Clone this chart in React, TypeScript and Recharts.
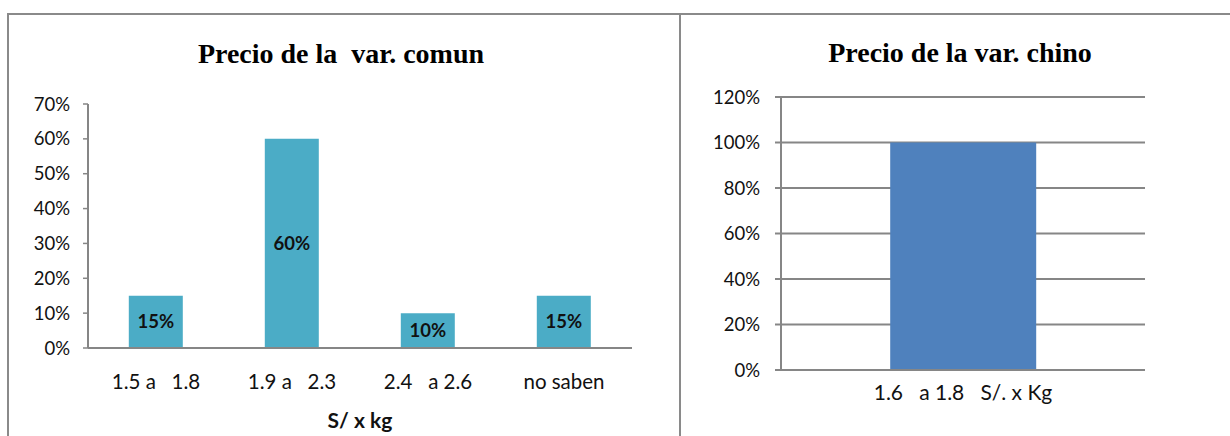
import React from 'react';
import { BarChart, Bar, XAxis, YAxis, CartesianGrid, LabelList, Label } from 'recharts';

// ---- Data ----
const commonCategories = ['1.5 a   1.8', '1.9 a   2.3', '2.4   a 2.6', 'no saben'];
const commonValues = [15, 60, 10, 15];
const commonTicks = [0, 10, 20, 30, 40, 50, 60, 70];

const chinoCategories = ['1.6   a 1.8   S/. x Kg'];
const chinoValues = [100];
const chinoTicks = [0, 20, 40, 60, 80, 100, 120];

const commonData = commonCategories.map((c, i) => ({ name: c, value: commonValues[i] }));
const chinoData = chinoCategories.map((c, i) => ({ name: c, value: chinoValues[i] }));

const FONT = 'Lato, "Open Sans", sans-serif';
const GRAY = '#868686';
const pct = (v: number) => `${v}%`;

const CatTick = (props: any) => {
  const { x, y, payload, fontSize } = props;
  return (
    <text
      x={x}
      y={y}
      dy="0.71em"
      textAnchor="middle"
      fontFamily={FONT}
      fontSize={fontSize}
      fill="#111"
      style={{ whiteSpace: 'pre' }}
    >
      {payload.value}
    </text>
  );
};

export default function App() {
  return (
    <div style={{ position: 'absolute', left: 0, top: 0, width: 1230, height: 436, overflow: 'hidden', background: '#fff' }}>
      {/* panel borders */}
      <div style={{ position: 'absolute', left: 7, top: 13, width: 1223, height: 2, background: '#8a8a8a' }} />
      <div style={{ position: 'absolute', left: 7, top: 13, width: 2, height: 423, background: '#8a8a8a' }} />
      <div style={{ position: 'absolute', left: 679, top: 13, width: 2, height: 423, background: '#8a8a8a' }} />

      {/* titles */}
      <div style={{ position: 'absolute', left: 5, top: 40, width: 672, textAlign: 'center', fontFamily: '"Liberation Serif", "Times New Roman", serif', fontWeight: 'bold', fontSize: 28, lineHeight: '28px', whiteSpace: 'pre', color: '#000' }}>
        {'Precio de la  var. comun'}
      </div>
      <div style={{ position: 'absolute', left: 684, top: 39, width: 552, textAlign: 'center', fontFamily: '"Liberation Serif", "Times New Roman", serif', fontWeight: 'bold', fontSize: 28, lineHeight: '28px', whiteSpace: 'pre', color: '#000' }}>
        {'Precio de la var. chino'}
      </div>

      {/* left chart */}
      <div style={{ position: 'absolute', left: 7, top: 13 }}>
        <BarChart width={672} height={423} data={commonData} margin={{ top: 91, right: 47, bottom: 28, left: 21 }} barCategoryGap="30%">
          <XAxis
            dataKey="name"
            axisLine={{ stroke: GRAY, strokeWidth: 2 }}
            tickLine={false}
            tickSize={0}
            tickMargin={26}
            height={60}
            interval={0}
            tick={<CatTick fontSize={20.5} />}
          >
            <Label value="S/ x kg" position="bottom" offset={5} fontFamily={FONT} fontWeight="bold" fontSize={21} fill="#111" />
          </XAxis>
          <YAxis
            width={60}
            domain={[0, 70]}
            ticks={commonTicks}
            interval={0}
            tickFormatter={pct}
            axisLine={{ stroke: GRAY, strokeWidth: 2 }}
            tickLine={{ stroke: GRAY, strokeWidth: 1.5 }}
            tickSize={5}
            tickMargin={13}
            tick={{ fontFamily: FONT, fontSize: 18.5, fill: '#111' }}
          />
          <Bar dataKey="value" fill="#4BACC6" isAnimationActive={false}>
            <LabelList dataKey="value" position="center" formatter={pct} fontFamily={FONT} fontWeight="bold" fontSize={18.5} fill="#111" />
          </Bar>
        </BarChart>
      </div>

      {/* right chart */}
      <div style={{ position: 'absolute', left: 679, top: 13 }}>
        <BarChart width={551} height={423} data={chinoData} margin={{ top: 84, right: 85, bottom: 26, left: 42 }} barCategoryGap="30%">
          <CartesianGrid vertical={false} stroke={GRAY} strokeWidth={2} />
          <XAxis
            dataKey="name"
            axisLine={{ stroke: GRAY, strokeWidth: 2 }}
            tickLine={false}
            tickSize={0}
            tickMargin={15}
            height={40}
            interval={0}
            tick={<CatTick fontSize={21} />}
          />
          <YAxis
            width={60}
            domain={[0, 120]}
            ticks={chinoTicks}
            interval={0}
            tickFormatter={pct}
            axisLine={{ stroke: GRAY, strokeWidth: 2 }}
            tickLine={{ stroke: GRAY, strokeWidth: 2 }}
            tickSize={6}
            tickMargin={15}
            tick={{ fontFamily: FONT, fontSize: 18.5, fill: '#111' }}
          />
          <Bar dataKey="value" fill="#4F81BD" isAnimationActive={false} />
        </BarChart>
      </div>
    </div>
  );
}
